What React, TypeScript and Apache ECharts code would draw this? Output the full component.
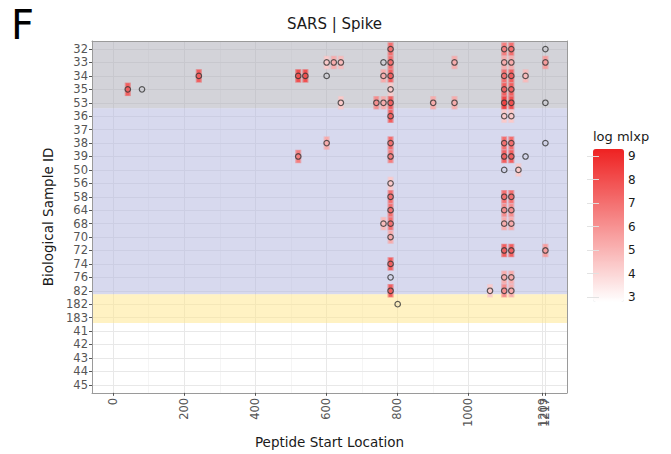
import React, { useEffect, useRef } from "react";
import * as echarts from "echarts";

// Categories (top to bottom)
const sampleIds = ["32","33","34","35","53","36","37","38","39","50","56","58","64","68","70","72","74","76","82","182","183","41","42","43","44","45"];

// Points: sample id, peptide start, log mlxp (null = no coloured tile)
const peptideSample = [
  "32","32","32","32",
  "33","33","33","33","33","33","33","33","33",
  "34","34","34","34","34","34","34","34","34",
  "35","35","35","35","35",
  "53","53","53","53","53","53","53","53","53",
  "36","36","36",
  "38","38","38","38","38",
  "39","39","39","39","39",
  "50","50",
  "56",
  "58","58","58",
  "64","64","64",
  "68","68","68","68",
  "70",
  "72","72","72",
  "74",
  "76","76","76",
  "82","82","82","82",
  "182"
];
const peptideStart = [
  781,1101,1121,1217,
  601,621,641,761,781,961,1101,1121,1217,
  241,521,541,601,761,781,1101,1121,1161,
  41,81,781,1101,1121,
  641,741,761,781,901,961,1101,1121,1217,
  781,1101,1121,
  601,781,1101,1121,1217,
  521,781,1101,1121,1161,
  1101,1141,
  781,
  781,1101,1121,
  781,1101,1121,
  761,781,1101,1121,
  781,
  1101,1121,1217,
  781,
  781,1101,1121,
  781,1061,1101,1121,
  801
];
const logMlxp: (number | null)[] = [
  7.5,7,7.5,null,
  4.5,5.5,5,null,7.5,5.5,5.5,5.5,6,
  8,8.5,8.5,null,5.5,8,7.5,8,5,
  8,null,4.5,8,8,
  4.5,6.5,5.5,8,5.5,5.5,9,8.5,null,
  8,4.5,4.5,
  5.5,7.5,7.5,7.5,null,
  7,7,8,8,null,
  null,4.5,
  4.5,
  7.5,7.5,7.5,
  7.5,6.5,6.5,
  5,7.5,5.5,5.5,
  5.5,
  8,8,6,
  8,
  null,5.5,5.5,
  8,4.5,6.5,5.5,
  null
];

const xTicks = [0, 200, 400, 600, 800, 1000, 1209, 1217];
const xLabelsMain = [0, 200, 400, 600, 800, 1000, 1217];
const xLabelsExtra = [1209];
const xMinorGrid = [100, 300, 500, 700, 900];
const colorTicks = [3, 4, 5, 6, 7, 8, 9];
const colorRange = [2.79, 9.31];
const xRange = [-59.8, 1277.8];

// Shaded sample groups: [from, to] in category index units
const bandGray = [-0.6, 4.4];
const bandBlue = [4.4, 18.25];
const bandYellow = [18.25, 20.4];

const FONT = "DejaVu Sans";

export default function App() {
  const ref = useRef<HTMLDivElement>(null);
  useEffect(() => {
    if (!ref.current) return;
    const chart = echarts.init(ref.current, undefined, { renderer: "svg" });
    const rowIdx = (s: string) => sampleIds.indexOf(s);
    const tileData = peptideStart
      .map((x, i) => [x, rowIdx(peptideSample[i]), logMlxp[i]])
      .filter((d) => d[2] !== null);
    const pointData = peptideStart.map((x, i) => [x, rowIdx(peptideSample[i])]);
    const yIdx = sampleIds.map((_, i) => i);

    const gridLines: any[] = [];
    xTicks.forEach((v) => gridLines.push({ xAxis: v, lineStyle: { color: "#e8e8e8", width: 1, type: "solid" } }));
    xMinorGrid.forEach((v) => gridLines.push({ xAxis: v, lineStyle: { color: "#efefef", width: 0.6, type: "solid" } }));
    yIdx.forEach((v) => gridLines.push({ yAxis: v, lineStyle: { color: "#e8e8e8", width: 1, type: "solid" } }));

    const xLabelStyle = {
      rotate: 90, margin: 5, fontSize: 11.5, color: "#555", fontFamily: FONT,
      hideOverlap: false,
      formatter: (v: number) => String(Math.round(v)),
    };

    const option: any = {
      animation: false,
      backgroundColor: "#ffffff",
      textStyle: { fontFamily: FONT },
      title: {
        text: "SARS | Spike",
        left: 329.5,
        textAlign: "center",
        top: 11,
        textStyle: { fontFamily: FONT, fontSize: 15, fontWeight: "normal", color: "#1a1a1a" },
      },
      graphic: [
        { type: "text", left: 11, top: 5, style: { text: "F", fontFamily: FONT, fontSize: 40, fill: "#000" } },
        { type: "text", left: 593, top: 130, style: { text: "log mlxp", fontFamily: FONT, fontSize: 13, fill: "#1a1a1a" } },
      ],
      grid: [
        { left: 92, top: 41, width: 475, height: 354, show: true, backgroundColor: "#ffffff", borderWidth: 0 },
        { left: 593, top: 149, width: 31, height: 153, show: false },
      ],
      xAxis: [
        {
          gridIndex: 0, type: "value", min: xRange[0], max: xRange[1], position: "bottom", z: 10,
          name: "Peptide Start Location", nameLocation: "middle", nameGap: 42,
          nameTextStyle: { fontFamily: FONT, fontSize: 13.5, color: "#1a1a1a" },
          axisLine: { show: true, onZero: false, lineStyle: { color: "#9a9a9a", width: 1 } },
          axisTick: { show: true, length: 3, customValues: xTicks, lineStyle: { color: "#555" } },
          axisLabel: { ...xLabelStyle, customValues: xLabelsMain },
          splitLine: { show: false },
        },
        {
          gridIndex: 0, type: "value", min: xRange[0], max: xRange[1], position: "top", z: 10,
          axisLine: { show: true, onZero: false, lineStyle: { color: "#9a9a9a", width: 1 } },
          axisTick: { show: false }, axisLabel: { show: false }, splitLine: { show: false },
        },
        {
          gridIndex: 0, type: "value", min: xRange[0], max: xRange[1], position: "bottom", offset: 0, z: 10,
          axisLine: { show: false },
          axisTick: { show: false },
          axisLabel: { ...xLabelStyle, customValues: xLabelsExtra },
          splitLine: { show: false },
        },
        { gridIndex: 1, type: "value", min: 0, max: 1, show: false },
      ],
      yAxis: [
        {
          gridIndex: 0, type: "value", min: -0.6, max: 25.6, inverse: true, position: "left", z: 10,
          name: "Biological Sample ID", nameLocation: "middle", nameGap: 33,
          nameTextStyle: { fontFamily: FONT, fontSize: 13.5, color: "#1a1a1a" },
          axisLine: { show: true, onZero: false, lineStyle: { color: "#9a9a9a", width: 1 } },
          axisTick: { show: true, length: 3, customValues: yIdx, lineStyle: { color: "#555" } },
          axisLabel: {
            customValues: yIdx, margin: 4, fontSize: 11.5, color: "#555", fontFamily: FONT,
            formatter: (v: number) => sampleIds[Math.round(v)] ?? "",
          },
          splitLine: { show: false },
        },
        {
          gridIndex: 0, type: "value", min: -0.6, max: 25.6, inverse: true, position: "right", z: 10,
          axisLine: { show: true, onZero: false, lineStyle: { color: "#9a9a9a", width: 1 } },
          axisTick: { show: false }, axisLabel: { show: false }, splitLine: { show: false },
        },
        {
          gridIndex: 1, type: "value", min: colorRange[0], max: colorRange[1], position: "right", z: 10,
          axisLine: { show: false },
          axisTick: { show: true, inside: true, length: 6, customValues: colorTicks, lineStyle: { color: "rgba(225,225,225,0.95)", width: 1 } },
          axisLabel: { customValues: colorTicks, margin: 4, fontSize: 12, color: "#1a1a1a", fontFamily: FONT },
          splitLine: { show: false },
        },
        {
          gridIndex: 1, type: "value", min: colorRange[0], max: colorRange[1], position: "left", z: 10,
          axisLine: { show: false },
          axisTick: { show: true, inside: true, length: 6, customValues: colorTicks, lineStyle: { color: "rgba(225,225,225,0.95)", width: 1 } },
          axisLabel: { show: false },
          splitLine: { show: false },
        },
      ],
      visualMap: {
        type: "continuous",
        min: colorRange[0],
        max: colorRange[1],
        dimension: 2,
        seriesIndex: 2,
        left: 593,
        top: 149,
        padding: 0,
        itemWidth: 31,
        itemHeight: 153,
        calculable: false,
        hoverLink: false,
        realtime: false,
        text: null,
        showLabel: false,
        inRange: { color: ["#ffffff", "#ee2222"] },
      },
      series: [
        {
          type: "scatter", xAxisIndex: 0, yAxisIndex: 0, data: [], z: 1, silent: true,
          markLine: { silent: true, z: 1, symbol: ["none", "none"], label: { show: false }, animation: false, data: gridLines },
        },
        {
          type: "scatter", xAxisIndex: 0, yAxisIndex: 0, data: [], z: 2, silent: true,
          markArea: {
            silent: true,
            z: 2,
            label: { show: false },
            data: [
              [{ yAxis: bandGray[0], itemStyle: { color: "rgba(168,168,180,0.5)" } }, { yAxis: bandGray[1] }],
              [{ yAxis: bandBlue[0], itemStyle: { color: "rgba(176,180,222,0.5)" } }, { yAxis: bandBlue[1] }],
              [{ yAxis: bandYellow[0], itemStyle: { color: "rgba(255,229,135,0.5)" } }, { yAxis: bandYellow[1] }],
            ],
          },
        },
        {
          type: "custom", xAxisIndex: 0, yAxisIndex: 0, z: 3, silent: true,
          encode: { x: 0, y: 1 },
          data: tileData,
          renderItem: (params: any, api: any) => {
            const c = api.coord([api.value(0), api.value(1)]);
            const sz = api.size([1, 1]);
            const w = Math.abs(sz[0]);
            const h = Math.abs(sz[1]);
            const color = api.visual("color");
            const core = echarts.color.lift(color, 0.1);
            return {
              type: "group",
              children: [
                { type: "rect", shape: { x: c[0] - 8.5 * w, y: c[1] - 0.5 * h, width: 17 * w, height: h }, style: { fill: color, opacity: 0.55 } },
                { type: "rect", shape: { x: c[0] - 5 * w, y: c[1] - 0.45 * h, width: 10 * w, height: 0.9 * h }, style: { fill: core, opacity: 1 } },
              ],
            };
          },
        },
        {
          type: "scatter", xAxisIndex: 0, yAxisIndex: 0, z: 4, silent: true,
          symbol: "circle", symbolSize: 5.5,
          itemStyle: { color: "rgba(0,0,0,0)", borderColor: "#333", borderWidth: 1.2 },
          data: pointData,
        },
        { type: "scatter", xAxisIndex: 3, yAxisIndex: 2, data: [], silent: true },
      ],
    };
    chart.setOption(option);
    return () => chart.dispose();
  }, []);
  return <div ref={ref} style={{ position: "absolute", left: 0, top: 0, width: 671, height: 454 }} />;
}
